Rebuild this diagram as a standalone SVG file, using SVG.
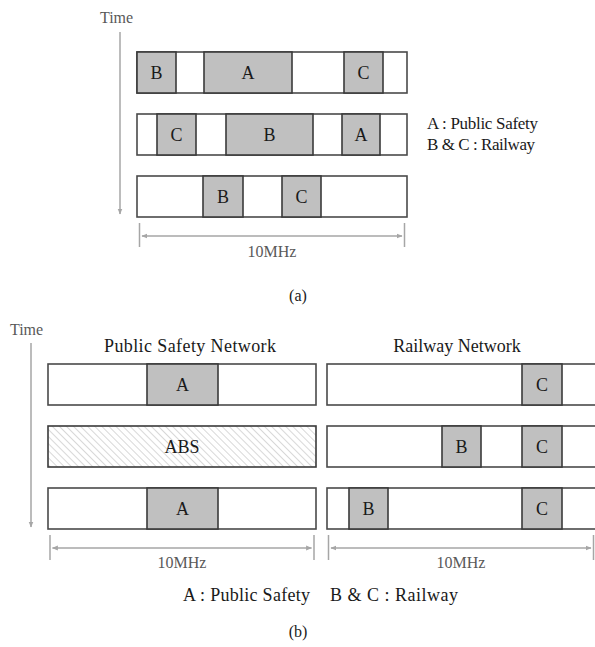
<svg xmlns="http://www.w3.org/2000/svg" width="595" height="647" viewBox="0 0 595 647">
<style>
text{font-family:"Liberation Serif","Times New Roman",serif;fill:#1a1a1a}
.lbl{font-size:18px;text-anchor:middle}
.ttl{font-size:18px;text-anchor:middle}
.gry{fill:#595959;font-size:16px}
.row{fill:#fff;stroke:#4a4a4a;stroke-width:1.6}
.blk{fill:#c0c0c0;stroke:#3a3a3a;stroke-width:1.6}
.ax{stroke:#a6a6a6;stroke-width:1.5;fill:none}
</style>
<defs>
<marker id="ah" viewBox="0 0 10 10" refX="9" refY="5" markerWidth="6" markerHeight="6" orient="auto-start-reverse" markerUnits="userSpaceOnUse"><path d="M0,1 L10,5 L0,9 z" fill="#a6a6a6"/></marker>
<pattern id="hatch" patternUnits="userSpaceOnUse" width="5" height="5" patternTransform="rotate(-45)"><line x1="0" y1="0" x2="0" y2="5" stroke="#bdbdbd" stroke-width="1.2"/></pattern>
</defs>

<g id="conn">
<line class="ax" x1="120" y1="32" x2="120" y2="214" marker-end="url(#ah)"/>
<line class="ax" x1="139.5" y1="223" x2="139.5" y2="247"/>
<line class="ax" x1="404.5" y1="223" x2="404.5" y2="247"/>
<line class="ax" x1="142" y1="236" x2="402" y2="236" marker-start="url(#ah)" marker-end="url(#ah)"/>
<line class="ax" x1="31" y1="343" x2="31" y2="527" marker-end="url(#ah)"/>
<line class="ax" x1="50" y1="535" x2="50" y2="560"/>
<line class="ax" x1="314" y1="535" x2="314" y2="560"/>
<line class="ax" x1="52.5" y1="548" x2="311.5" y2="548" marker-start="url(#ah)" marker-end="url(#ah)"/>
<line class="ax" x1="328.5" y1="535" x2="328.5" y2="560"/>
<line class="ax" x1="593.5" y1="535" x2="593.5" y2="560"/>
<line class="ax" x1="331" y1="548" x2="591" y2="548" marker-start="url(#ah)" marker-end="url(#ah)"/>
</g>

<g id="a-labels">
<text class="gry" x="100" y="23" textLength="33">Time</text>
<text class="gry" x="272" y="257" text-anchor="middle">10MHz</text>
<text x="427" y="129" font-size="17" textLength="111">A : Public Safety</text>
<text x="427" y="150" font-size="17" textLength="108">B &amp; C : Railway</text>
<text x="298" y="301" font-size="16" text-anchor="middle">(a)</text>
</g>

<g id="a-row1">
<rect class="row" x="137" y="52" width="270" height="41"/>
<rect class="blk" x="137" y="52" width="39" height="41"/><text class="lbl" x="156.5" y="79">B</text>
<rect class="blk" x="204" y="52" width="88" height="41"/><text class="lbl" x="248" y="79">A</text>
<rect class="blk" x="344" y="52" width="39" height="41"/><text class="lbl" x="363.5" y="79">C</text>
</g>
<g id="a-row2">
<rect class="row" x="137" y="114" width="270" height="41"/>
<rect class="blk" x="157" y="114" width="39" height="41"/><text class="lbl" x="176.5" y="141">C</text>
<rect class="blk" x="226" y="114" width="87" height="41"/><text class="lbl" x="269.5" y="141">B</text>
<rect class="blk" x="342" y="114" width="38" height="41"/><text class="lbl" x="361" y="141">A</text>
</g>
<g id="a-row3">
<rect class="row" x="137" y="176" width="270" height="41"/>
<rect class="blk" x="203" y="176" width="40" height="41"/><text class="lbl" x="223" y="203">B</text>
<rect class="blk" x="282" y="176" width="39" height="41"/><text class="lbl" x="301.5" y="203">C</text>
</g>

<g id="b-labels">
<text class="gry" x="10" y="335" textLength="33">Time</text>
<text class="ttl" x="190" y="352" textLength="172">Public Safety Network</text>
<text class="ttl" x="457" y="352">Railway Network</text>
<text class="gry" x="182" y="568" text-anchor="middle">10MHz</text>
<text class="gry" x="461" y="568" text-anchor="middle">10MHz</text>
<text x="183" y="601" font-size="18" textLength="127">A : Public Safety</text>
<text x="330" y="601" font-size="18" textLength="128">B &amp; C : Railway</text>
<text x="298" y="637" font-size="16" text-anchor="middle">(b)</text>
</g>

<g id="ps-row1">
<rect class="row" x="48" y="364" width="268" height="41" stroke="#222"/>
<rect class="blk" x="147" y="364" width="71" height="41"/><text class="lbl" x="182.5" y="391">A</text>
</g>
<g id="ps-row2">
<rect x="48" y="426" width="268" height="41" fill="#fff"/>
<rect x="48" y="426" width="268" height="41" fill="url(#hatch)" stroke="#3a3a3a" stroke-width="1.6"/>
<text class="lbl" x="182" y="453">ABS</text>
</g>
<g id="ps-row3">
<rect class="row" x="48" y="488" width="268" height="41"/>
<rect class="blk" x="147" y="488" width="71" height="41"/><text class="lbl" x="182.5" y="515">A</text>
</g>

<g id="rw-row1">
<rect class="row" x="327" y="364" width="270" height="41" stroke="#222"/>
<rect class="blk" x="522" y="364" width="40" height="41"/><text class="lbl" x="542" y="391">C</text>
</g>
<g id="rw-row2">
<rect class="row" x="327" y="426" width="270" height="41" stroke="#707070"/>
<rect class="blk" x="442" y="426" width="39" height="41"/><text class="lbl" x="461.5" y="453">B</text>
<rect class="blk" x="522" y="426" width="40" height="41"/><text class="lbl" x="542" y="453">C</text>
</g>
<g id="rw-row3">
<rect class="row" x="327" y="488" width="270" height="41"/>
<rect class="blk" x="349" y="488" width="39" height="41" stroke="#222"/><text class="lbl" x="368.5" y="515">B</text>
<rect class="blk" x="522" y="488" width="40" height="41"/><text class="lbl" x="542" y="515">C</text>
</g>
</svg>
